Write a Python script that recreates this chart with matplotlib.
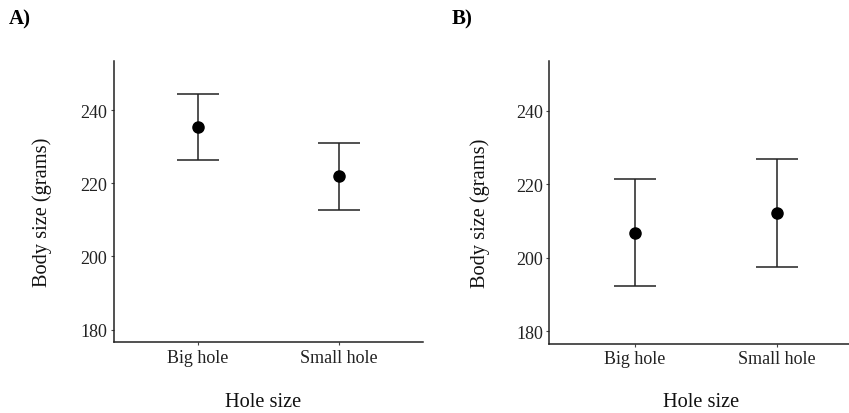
import matplotlib
matplotlib.use("Agg")
import matplotlib.pyplot as plt

plt.rcParams['font.family'] = ['Liberation Serif', 'DejaVu Serif']

categories = ["Big hole", "Small hole"]
means_a = [235.3, 221.9]
err_a = [9.05, 9.15]
means_b = [206.85, 212.2]
err_b = [14.55, 14.6]
yticks = [180, 200, 220, 240]
panel_labels = ["A)", "B)"]

fig = plt.figure(figsize=(8.49, 4.14), dpi=100)
W, H = 849, 414

def px_axes(l, r, t, b):
    return fig.add_axes([l / W, (H - b) / H, (r - l) / W, (b - t) / H])

ax_a = px_axes(113.7, 423, 61.7, 343.3)
ax_b = px_axes(549.3, 862, 62.3, 345)

for ax, means, errs in [(ax_a, means_a, err_a), (ax_b, means_b, err_b)]:
    x = list(range(1, len(categories) + 1))
    ax.errorbar(x, means, yerr=errs, fmt='o', color='black', ms=8,
                elinewidth=1.1, capsize=15.1, capthick=1.1, ecolor='#222222')
    ax.set_xlim(0.4, 2.6)
    ax.set_ylim(176.5, 253.5)
    ax.set_xticks(x)
    ax.set_xticklabels(categories)
    ax.set_yticks(yticks)
    for s in ['top', 'right']:
        ax.spines[s].set_visible(False)
    for s in ['left', 'bottom']:
        ax.spines[s].set_linewidth(1.1)
        ax.spines[s].set_color('#222222')
    ax.tick_params(axis='both', labelsize=13, length=2.5, width=0.8,
                   color='#444444', labelcolor='#222222', pad=2)

# axis titles
for xc, yc in [(41.7, 212), (480, 213)]:
    fig.text(xc / W, 1 - yc / H, "Body size (grams)", rotation=90,
             ha='center', va='center', fontsize=14.7, color='#111111')
for xc in [263, 701.5]:
    fig.text(xc / W, 1 - 407 / H, "Hole size", ha='center', va='baseline',
             fontsize=14.7, color='#111111')

# panel labels
for xl, lab in zip([9, 452], panel_labels):
    fig.text(xl / W, 1 - 24 / H, lab, ha='left', va='baseline',
             fontsize=15, fontweight='bold')

fig.savefig("out.png", dpi=100)
